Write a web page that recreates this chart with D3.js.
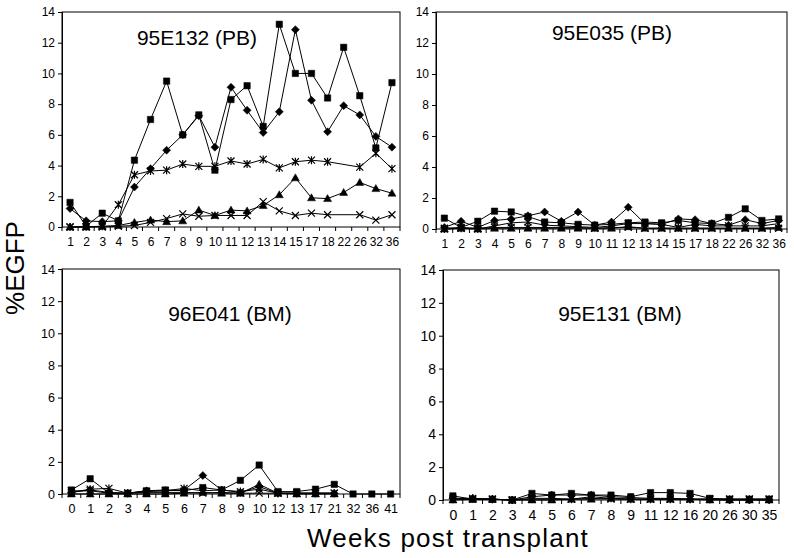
<!DOCTYPE html>
<html>
<head>
<meta charset="utf-8">
<script src="https://cdn.jsdelivr.net/npm/d3@7"></script>
<style>
  body { margin: 0; background: #fff; }
  text { font-family: "Liberation Sans", Arial, sans-serif; fill: #000; }
</style>
</head>
<body>
<svg id="chart" width="794" height="558"></svg>
<script>
// %EGFP over weeks post transplant, four animals

// 95E132 (PB)
var weeks132 = ["1","2","3","4","5","6","7","8","9","10","11","12","13","14","15","17","18","22","26","32","36"];
var sq132  = [1.6,0.05,0.9,0.4,4.35,7.0,9.5,6.0,7.3,3.7,8.3,9.2,6.55,13.2,10.0,10.0,8.4,11.7,8.55,5.15,9.4];
var dia132 = [1.2,0.4,0.35,0.4,2.6,3.8,5.0,6.0,7.25,5.2,9.1,7.6,6.15,7.5,12.85,8.25,6.2,7.9,7.3,5.9,5.2];
var tri132 = [0,0,0.05,0.1,0.3,0.45,0.35,0.4,1.1,0.75,1.1,1.05,1.4,2.1,3.2,1.9,1.85,2.25,2.9,2.5,2.2];
var ast132 = [0,0.02,0.05,1.45,3.4,3.65,3.7,4.1,3.95,3.95,4.3,4.1,4.4,3.85,4.25,4.35,4.25,null,3.9,4.8,3.8];
var x132   = [0,0,0,0.05,0.1,0.3,0.55,0.85,0.7,0.75,0.75,0.75,1.65,1.05,0.75,0.9,0.8,null,0.8,0.45,0.8];

// 95E035 (PB)
var weeks035 = ["1","2","3","4","5","6","7","8","9","10","11","12","13","14","15","17","18","22","26","32","36"];
var sq035  = [0.7,0.1,0.5,1.15,1.1,0.8,0.45,0.4,0.3,0.25,0.3,0.4,0.45,0.4,0.55,0.4,0.35,0.75,1.3,0.55,0.65];
var dia035 = [0.1,0.5,0.1,0.55,0.65,0.85,1.1,0.5,1.1,0.25,0.45,1.4,0.35,0.3,0.65,0.6,0.35,0.25,0.6,0.35,0.55];
var tri035 = [0,0.05,0,0.05,0.05,0.05,0.05,0.05,0.05,0.05,0.05,0.15,0.05,0.05,0.05,0.05,0.05,0.05,0.05,0.05,0.1];
var ast035 = [0,0.05,0,0.2,0.4,0.45,0.25,0.2,0.15,0.1,0.2,0.35,0.35,0.3,0.1,0.3,0.2,0.2,0.2,0.2,0.35];
var x035   = [0.05,0.1,0.05,0.1,0.1,0.1,0.1,0.1,0.1,0.05,0.1,0.1,0.05,0.05,0.05,0.05,0.05,0.05,0.05,0.05,0.05];

// 96E041 (BM)
var weeks041 = ["0","1","2","3","4","5","6","7","8","9","10","12","13","17","21","32","36","41"];
var sq041  = [0.25,0.95,0.05,0.05,0.2,0.25,0.2,0.4,0.25,0.85,1.8,0.15,0.15,0.3,0.6,0,0,0];
var dia041 = [0.1,0.25,0.1,0.05,0.2,0.2,0.25,1.15,0.25,0.1,0.45,0.05,0.05,0.05,0.05,null,null,null];
var tri041 = [0,0,0,0,0,0,0.05,0.1,0.05,0.05,0.6,0.05,0,0,0,null,null,null];
var ast041 = [0.1,0.3,0.35,0.05,0.15,0.2,0.35,0.2,0.25,0.15,0.3,0.05,0.05,0.05,0.05,null,null,null];
var x041   = [0.2,0.2,0.05,0.05,0.1,0.1,0.1,0.05,0.1,0.05,0.05,0.05,0.05,0.05,0.05,null,null,null];

// 95E131 (BM)
var weeks131 = ["0","1","2","3","4","5","6","7","8","9","11","12","16","20","26","30","35"];
var sq131  = [0.25,0.05,0.05,0,0.4,0.3,0.4,0.3,0.3,0.2,0.45,0.45,0.4,0.1,0.05,0.05,0.05];
var dia131 = [0.1,0.1,0.05,0,0.2,0.3,0.3,0.3,0.2,0.15,0.1,0.1,0.05,0.05,0,0,0];
var tri131 = [0,0.05,0.05,0,0,0,0.05,0.05,0.1,0.05,0.05,0.05,0.05,0,0,0,0];
var ast131 = [0.05,0.1,0.05,0,0.1,0.1,0.05,0.2,0.1,0.05,0.05,0.05,0.05,0.05,0.05,0.05,0.05];
var x131   = [0.05,0.05,0.05,0,0.05,0.05,0.05,0.1,0.05,0.05,0.05,0.05,0.05,0.05,0.05,0.05,0.05];

var yTicks = [0,2,4,6,8,10,12,14];

var panels = [
  {title: "95E132 (PB)", weeks: weeks132, series: [sq132, dia132, tri132, ast132, x132], l: 62, r: 400, t: 12, b: 227, tx: 197, ty: 45, fs: 12},
  {title: "95E035 (PB)", weeks: weeks035, series: [sq035, dia035, tri035, ast035, x035], l: 436, r: 787, t: 12, b: 229, tx: 612, ty: 40, fs: 12},
  {title: "96E041 (BM)", weeks: weeks041, series: [sq041, dia041, tri041, ast041, x041], l: 62, r: 400, t: 269, b: 494, tx: 230, ty: 321, fs: 12.5},
  {title: "95E131 (BM)", weeks: weeks131, series: [sq131, dia131, tri131, ast131, x131], l: 443, r: 779, t: 270, b: 500, tx: 620, ty: 321, fs: 14}
];

var markers = ["square", "diamond", "triangle", "asterisk", "cross"];

function markerPath(kind) {
  var s = 3.2;
  if (kind == "square") return "M" + -s + "," + -s + "H" + s + "V" + s + "H" + -s + "Z";
  if (kind == "diamond") return "M0,-4L4,0L0,4L-4,0Z";
  if (kind == "triangle") return "M0,-4L4,3H-4Z";
  if (kind == "asterisk") return "M-3.5,-3.5L3.5,3.5M3.5,-3.5L-3.5,3.5M0,-4V4";
  return "M-3.5,-3.5L3.5,3.5M3.5,-3.5L-3.5,3.5";
}

var svg = d3.select("#chart");

panels.forEach(function(p) {
  var x = d3.scalePoint().domain(p.weeks).range([p.l, p.r]).padding(0.5);
  var y = d3.scaleLinear().domain([0, 14]).range([p.b, p.t]);
  var g = svg.append("g");

  g.append("rect")
    .attr("x", p.l).attr("y", p.t)
    .attr("width", p.r - p.l).attr("height", p.b - p.t)
    .attr("fill", "none").attr("stroke", "#000").attr("stroke-width", 1);

  // y axis
  var ya = g.append("g").attr("transform", "translate(" + p.l + ",0)")
    .call(d3.axisLeft(y).tickValues(yTicks).tickSize(4).tickPadding(3));
  ya.select(".domain").attr("stroke", "#000");
  ya.selectAll("text").style("font-size", p.fs + "px").style("font-family", "Liberation Sans, Arial, sans-serif");

  // x axis: labels at category centres, ticks at category edges
  var xa = g.append("g").attr("transform", "translate(0," + p.b + ")")
    .call(d3.axisBottom(x).tickSize(0).tickPadding(10));
  xa.select(".domain").remove();
  xa.selectAll("text").style("font-size", p.fs + "px").style("font-family", "Liberation Sans, Arial, sans-serif");
  var step = x.step();
  g.selectAll(".edge").data(d3.range(p.weeks.length + 1)).enter().append("line")
    .attr("x1", function(i) { return p.l + i * step; })
    .attr("x2", function(i) { return p.l + i * step; })
    .attr("y1", p.b).attr("y2", p.b + 4)
    .attr("stroke", "#000");

  var line = d3.line()
    .x(function(d) { return x(d.w); })
    .y(function(d) { return y(d.v); });

  p.series.forEach(function(vals, k) {
    var pts = vals.map(function(v, i) { return {w: p.weeks[i], v: v}; })
      .filter(function(d) { return d.v != null; });
    g.append("path").datum(pts)
      .attr("d", line)
      .attr("fill", "none").attr("stroke", "#000").attr("stroke-width", 1);
    var kind = markers[k];
    var filled = kind == "square" || kind == "diamond" || kind == "triangle";
    g.selectAll(".m" + k).data(pts).enter().append("path")
      .attr("transform", function(d) { return "translate(" + x(d.w) + "," + y(d.v) + ")"; })
      .attr("d", markerPath(kind))
      .attr("fill", filled ? "#000" : "none")
      .attr("stroke", "#000").attr("stroke-width", filled ? 0.5 : 1.2);
  });

  g.append("text")
    .attr("x", p.tx).attr("y", p.ty)
    .attr("text-anchor", "middle")
    .style("font-size", "21px")
    .text(p.title);
});

svg.append("text")
  .attr("transform", "translate(24,268) rotate(-90)")
  .attr("text-anchor", "middle")
  .style("font-size", "26px")
  .text("%EGFP");

svg.append("text")
  .attr("x", 448).attr("y", 547)
  .attr("text-anchor", "middle")
  .style("font-size", "26px")
  .style("letter-spacing", "1.2px")
  .text("Weeks post transplant");
</script>
</body>
</html>
